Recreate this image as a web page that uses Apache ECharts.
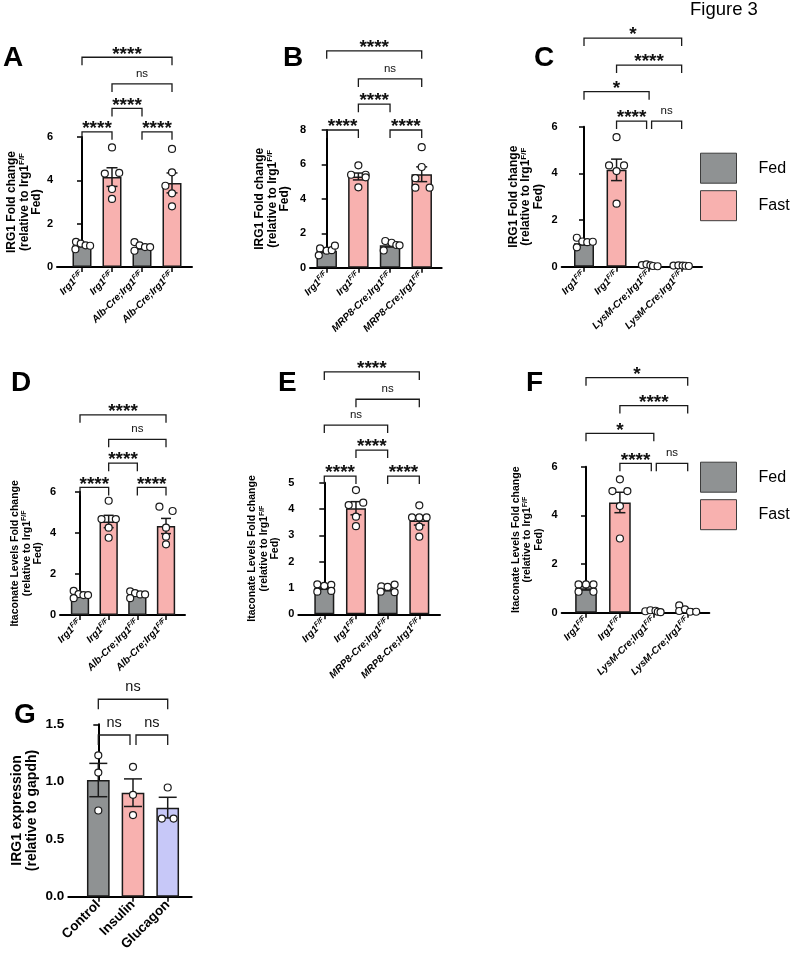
<!DOCTYPE html>
<html><head><meta charset="utf-8">
<script src="https://cdn.jsdelivr.net/npm/echarts@6/dist/echarts.min.js"></script>
<style>html,body{margin:0;padding:0;background:#fff}#c{width:793px;height:958px}</style>
</head><body><div id="c"></div>
<script>
// ---------------- DATA ----------------
const groupsAF = ['Fed', 'Fast', 'Fed', 'Fast'];
const labelsA = ['Irg1', 'Irg1', 'Alb-Cre;Irg1', 'Alb-Cre;Irg1'];
const labelsB = ['Irg1', 'Irg1', 'MRP8-Cre;Irg1', 'MRP8-Cre;Irg1'];
const labelsC = ['Irg1', 'Irg1', 'LysM-Cre;Irg1', 'LysM-Cre;Irg1'];
const labelsG = ['Control', 'Insulin', 'Glucagon'];
const groupsG = ['Control', 'Insulin', 'Glucagon'];

const yNameIRG1 = ['IRG1 Fold change', '(relative to Irg1^F/F', 'Fed)'];
const yNameIta = ['Itaconate Levels Fold change', '(relative to Irg1^F/F', 'Fed)'];
const yNameG = ['IRG1 expression', '(relative to gapdh)'];

const meanA = [1.0, 4.15, 0.9, 3.88];
const semA = [0.06, 0.43, 0.07, 0.46];
const ptsA = [[1.16, 1.08, 1.0, 0.98, 0.82], [5.52, 4.31, 4.34, 3.6, 3.14], [1.15, 1.0, 0.92, 0.92, 0.75], [5.45, 4.37, 3.75, 3.4, 2.8]];
const bracketsA = [[0, 1, 6.24], [2, 3, 6.24], [1, 2, 7.32], [1, 3, 8.45], [0, 3, 9.68]];
const sigA = ['****', '****', '****', 'ns', '****'];

const meanB = [0.98, 5.3, 1.3, 5.43];
const semB = [0.1, 0.2, 0.1, 0.43];
const ptsB = [[1.12, 0.99, 1.02, 1.28, 0.72], [5.95, 5.4, 5.4, 5.25, 4.67], [1.55, 1.45, 1.32, 1.3, 1.0], [7.0, 5.85, 5.2, 4.65, 4.65]];
const bracketsB = [[0, 1, 8.0], [2, 3, 8.0], [1, 2, 9.5], [1, 3, 10.97], [0, 3, 12.6]];
const sigB = ['****', '****', '****', 'ns', '****'];

const meanC = [1.0, 4.15, 0.05, 0.04];
const semC = [0.07, 0.46, 0.02, 0.01];
const ptsC = [[1.24, 1.08, 1.05, 1.07, 0.83], [5.55, 4.34, 4.34, 4.1, 2.7], [0.07, 0.1, 0.06, 0.03, 0.02], [0.05, 0.06, 0.05, 0.04, 0.03]];
const bracketsC = [[1, 2, 6.24], [2, 3, 6.24], [0, 2, 7.5], [1, 3, 8.64], [0, 3, 9.8]];
const sigC = ['****', 'ns', '*', '****', '*'];

const meanD = [0.97, 4.55, 1.0, 4.33];
const semD = [0.06, 0.3, 0.05, 0.37];
const ptsD = [[1.17, 1.02, 0.97, 0.97, 0.82], [5.56, 4.67, 4.67, 4.25, 3.76], [1.15, 1.06, 1.0, 1.0, 0.82], [5.27, 5.06, 4.25, 3.81, 3.44]];
const bracketsD = [[0, 1, 6.21], [2, 3, 6.21], [1, 2, 7.39], [1, 3, 8.55], [0, 3, 9.74]];
const sigD = ['****', '****', '****', 'ns', '****'];

const meanE = [1.01, 4.03, 0.95, 3.56];
const semE = [0.06, 0.25, 0.06, 0.17];
const ptsE = [[1.14, 1.08, 1.12, 0.86, 0.89], [4.72, 4.15, 4.24, 3.71, 3.35], [1.06, 1.04, 1.13, 0.86, 0.84], [4.14, 3.68, 3.68, 3.68, 3.33, 2.95]];
const bracketsE = [[0, 1, 5.25], [2, 3, 5.25], [1, 2, 6.24], [0, 2, 7.19], [1, 3, 8.17], [0, 3, 9.21]];
const sigE = ['****', '****', '****', 'ns', 'ns', '****'];

const meanF = [1.0, 4.53, 0.05, 0.11];
const semF = [0.07, 0.42, 0.02, 0.05];
const ptsF = [[1.16, 1.16, 1.16, 0.86, 0.86], [5.48, 5.0, 5.0, 4.38, 3.05], [0.06, 0.1, 0.08, 0.04, 0.02], [0.3, 0.07, 0.14, 0.04, 0.04]];
const bracketsF = [[1, 2, 6.14], [2, 3, 6.14], [0, 2, 7.37], [1, 3, 8.51], [0, 3, 9.66]];
const sigF = ['****', 'ns', '*', '****', '*'];

const meanG = [1.015, 0.905, 0.775];
const semG = [0.145, 0.12, 0.09];
const ptsG = [[1.23, 1.08, 0.75], [1.13, 0.886, 0.71], [0.95, 0.68, 0.68]];
const bracketsG = [[0, 1, 1.407], [1, 2, 1.407], [0, 2, 1.718]];
const sigG = ['ns', 'ns', 'ns'];

// horizontal spread of the dots (fraction of category step) - layout only
const jitA = [[-0.2, -0.04, 0.12, 0.27, -0.22], [0, -0.24, 0.24, 0, 0], [-0.25, -0.08, 0.1, 0.27, -0.25], [0, 0, -0.22, 0, 0]];
const jitB = [[-0.21, 0, 0.16, 0.26, -0.25], [0, -0.23, 0.23, 0.23, 0], [-0.15, 0.05, 0.2, 0.3, -0.2], [0, 0, -0.2, -0.2, 0.25]];
const jitC = [[-0.22, -0.05, 0.1, 0.27, -0.22], [0, -0.23, 0.23, 0, 0], [-0.22, -0.08, 0.04, 0.12, 0.26], [-0.25, -0.1, 0.03, 0.12, 0.22]];
const jitD = [[-0.22, -0.05, 0.12, 0.28, -0.22], [0, -0.25, 0.25, 0, 0], [-0.25, -0.08, 0.1, 0.27, -0.25], [-0.23, 0.23, 0, 0, 0]];
const jitE = [[-0.22, 0, 0.22, -0.22, 0.22], [0, -0.23, 0.23, 0, 0], [-0.2, 0, 0.22, -0.22, 0.22], [0, -0.23, 0, 0.23, 0, 0]];
const jitF = [[-0.22, 0, 0.22, -0.22, 0.22], [0, -0.22, 0.22, 0, 0], [-0.25, -0.1, 0.05, 0.12, 0.2], [-0.25, -0.25, -0.08, 0.07, 0.25]];
const jitG = [[0, 0, 0], [0, 0, 0], [0, -0.17, 0.17]];

// ---------------- STYLE / LAYOUT ----------------
const FONT = "'Liberation Sans', Arial, Helvetica, sans-serif";
const COLORS = { Fed: '#8f9293', Fast: '#f8b1af', Control: '#8f9293', Insulin: '#f8b1af', Glucagon: '#c7c8f8' };

const baseAF = { tickFont: 11, labFont: 10, supFont: 7, italic: true, sup: true, tip: 8, starSize: 19, nsSize: 11.5, starOff: 3, nsOff: 10, gap: 2.5, labMargin: 6, dot: 7 };
const panels = [
  Object.assign({}, baseAF, { letter: 'A', lx: 3, ly: 44, left: 57, top: 137, width: 135, height: 130, first: 25, step: 30, ymax: 6, yint: 2, barW: 19, cap: 11, nameGap: 10, nameFont: 12, nameLH: 12.5, yName: yNameIRG1, labels: labelsA, groups: groupsAF, mean: meanA, sem: semA, pts: ptsA, jit: jitA, br: bracketsA, sig: sigA }),
  Object.assign({}, baseAF, { letter: 'B', lx: 283, ly: 44, left: 310, top: 130, width: 131.7, height: 137.7, first: 16.7, step: 31.67, ymax: 8, yint: 2, barW: 20.5, cap: 11, nameGap: 19, nameFont: 12, nameLH: 12.5, yName: yNameIRG1, labels: labelsB, groups: groupsAF, mean: meanB, sem: semB, pts: ptsB, jit: jitB, br: bracketsB, sig: sigB }),
  Object.assign({}, baseAF, { letter: 'C', lx: 534, ly: 44, left: 561.7, top: 126.7, width: 140.3, height: 140, first: 22.3, step: 32.55, ymax: 6, yint: 2, barW: 20, cap: 11, nameGap: 17, nameFont: 12, nameLH: 12.5, yName: yNameIRG1, labels: labelsC, groups: groupsAF, mean: meanC, sem: semC, pts: ptsC, jit: jitC, br: bracketsC, sig: sigC }),
  Object.assign({}, baseAF, { letter: 'D', lx: 11, ly: 369, left: 60, top: 491.7, width: 125, height: 123.3, first: 20, step: 28.67, ymax: 6, yint: 2, barW: 18.3, cap: 10, nameGap: 16, nameFont: 10.5, nameLH: 11.5, yName: yNameIta, labels: labelsA, groups: groupsAF, mean: meanD, sem: semD, pts: ptsD, jit: jitD, br: bracketsD, sig: sigD }),
  Object.assign({}, baseAF, { letter: 'E', lx: 278, ly: 369, left: 298.3, top: 482.7, width: 141.7, height: 131.6, first: 26, step: 31.67, ymax: 5, yint: 1, barW: 20, cap: 11, nameGap: 17, nameFont: 10.5, nameLH: 11.5, yName: yNameIta, labels: labelsB, groups: groupsAF, mean: meanE, sem: semE, pts: ptsE, jit: jitE, br: bracketsE, sig: sigE }),
  Object.assign({}, baseAF, { letter: 'F', lx: 526, ly: 369, left: 561.7, top: 466.7, width: 147.6, height: 146, first: 24.3, step: 33.9, ymax: 6, yint: 2, barW: 21.7, cap: 11, nameGap: 17, nameFont: 10.5, nameLH: 11.5, yName: yNameIta, labels: labelsC, groups: groupsAF, mean: meanF, sem: semF, pts: ptsF, jit: jitF, br: bracketsF, sig: sigF }),
  { letter: 'G', lx: 14, ly: 701, left: 68.3, top: 724.3, width: 123.4, height: 172.4, first: 30, step: 34.7, ymax: 1.5, yint: 0.5, barW: 22.7, cap: 18, nameGap: 28, nameFont: 14, nameLH: 15.5, tickFont: 13.5, labFont: 13.5, italic: false, sup: false, tip: 10, starSize: 19, nsSize: 14.5, starOff: 3, nsOff: 12, gap: 3, labMargin: 6, dot: 7, decimals: 1, yName: yNameG, labels: labelsG, groups: groupsG, mean: meanG, sem: semG, pts: ptsG, jit: jitG, br: bracketsG, sig: sigG }
];

const option = {
  animation: false, backgroundColor: '#fff',
  title: [{ text: 'Figure 3', left: 690, top: 0, padding: 0, textStyle: { fontSize: 18.5, lineHeight: 19, fontWeight: 'normal', color: '#000', fontFamily: FONT } }],
  legend: [], grid: [], xAxis: [], yAxis: [], series: []
};

function yNameRich(lines) {
  return lines.map(l => {
    const parts = l.split('^');
    return '{b|' + parts[0] + '}' + (parts[1] ? '{s|' + parts[1] + '}' : '');
  }).join('\n');
}

panels.forEach((L, gi) => {
  option.title.push({ text: L.letter, left: L.lx, top: L.ly, padding: 0, textStyle: { fontSize: 28, lineHeight: 28, fontWeight: 'bold', color: '#000', fontFamily: FONT } });
  option.grid.push({ left: L.left, top: L.top, width: L.width, height: L.height });
  const ticks = L.labels.map((_, i) => i);
  option.xAxis.push({
    type: 'value', gridIndex: gi, min: -L.first / L.step, max: (L.width - L.first) / L.step,
    axisLine: { onZero: false, lineStyle: { color: '#000', width: 2 } },
    axisTick: { customValues: ticks, length: 5, lineStyle: { color: '#000', width: 1.5 } },
    splitLine: { show: false },
    axisLabel: {
      customValues: ticks, rotate: 45, margin: L.labMargin, color: '#000',
      formatter: v => L.sup ? '{i|' + L.labels[Math.round(v)] + '}{s|F/F}' : '{i|' + L.labels[Math.round(v)] + '}',
      rich: {
        i: { fontSize: L.labFont, fontWeight: 'bold', fontStyle: L.italic ? 'italic' : 'normal', fontFamily: FONT, color: '#000', lineHeight: L.labFont + 2 },
        s: { fontSize: L.supFont || 7, fontWeight: 'bold', fontStyle: 'italic', fontFamily: FONT, color: '#000', lineHeight: 5.5, verticalAlign: 'top' }
      }
    }
  });
  option.yAxis.push({
    type: 'value', gridIndex: gi, min: 0, max: L.ymax, interval: L.yint,
    axisLine: { show: true, lineStyle: { color: '#000', width: 2 } },
    axisTick: { show: true, length: 5, lineStyle: { color: '#000', width: 1.5 } },
    splitLine: { show: false },
    axisLabel: { fontSize: L.tickFont, fontWeight: 'bold', color: '#000', fontFamily: FONT, margin: 4,
      formatter: v => L.decimals ? v.toFixed(L.decimals) : String(v) },
    name: yNameRich(L.yName), nameLocation: 'middle', nameRotate: 90, nameGap: L.nameGap,
    nameTextStyle: { rich: {
      b: { fontSize: L.nameFont, fontWeight: 'bold', color: '#000', fontFamily: FONT, lineHeight: L.nameLH },
      s: { fontSize: Math.round(L.nameFont * 0.68), fontWeight: 'bold', color: '#000', fontFamily: FONT, lineHeight: 6, verticalAlign: 'top' }
    } }
  });

  // bars: one series per group, overlapped on their own x position
  const uniq = [...new Set(L.groups)];
  uniq.forEach(g => {
    option.series.push({
      type: 'bar', name: g, xAxisIndex: gi, yAxisIndex: gi, barWidth: L.barW, barGap: '-100%', z: 2,
      itemStyle: { color: COLORS[g], borderColor: '#1a1a1a', borderWidth: 1.5 },
      data: L.mean.map((m, i) => [i, m]).filter((d, i) => L.groups[i] === g)
    });
  });

  // error bars (mean ± SEM)
  option.series.push({
    type: 'custom', xAxisIndex: gi, yAxisIndex: gi, z: 3, silent: true,
    encode: { x: 0, y: 1 },
    data: L.mean.map((m, i) => [i, m, L.sem[i]]),
    renderItem: (p, api) => {
      const x = api.value(0), m = api.value(1), s = api.value(2);
      const t = api.coord([x, m + s]), b = api.coord([x, m - s]);
      const h = L.cap / 2;
      const st = { stroke: '#1a1a1a', lineWidth: 1.5 };
      return { type: 'group', children: [
        { type: 'line', shape: { x1: t[0], y1: t[1], x2: b[0], y2: b[1] }, style: st },
        { type: 'line', shape: { x1: t[0] - h, y1: t[1], x2: t[0] + h, y2: t[1] }, style: st },
        { type: 'line', shape: { x1: b[0] - h, y1: b[1], x2: b[0] + h, y2: b[1] }, style: st }
      ] };
    }
  });

  // individual points
  option.series.push({
    type: 'scatter', xAxisIndex: gi, yAxisIndex: gi, z: 4, symbol: 'circle', symbolSize: L.dot,
    itemStyle: { color: '#fff', borderColor: '#1a1a1a', borderWidth: 1.2, opacity: 1 },
    data: L.pts.flatMap((arr, i) => arr.map((v, k) => [i + L.jit[i][k], v]))
  });

  // significance brackets
  const br = L.br;
  const inset = br.map((b, j) => [
    br.some((c, k) => k !== j && c[2] === b[2] && c[1] === b[0]) ? L.gap : 0,
    br.some((c, k) => k !== j && c[2] === b[2] && c[0] === b[1]) ? L.gap : 0
  ]);
  option.series.push({
    type: 'custom', xAxisIndex: gi, yAxisIndex: gi, z: 5, silent: true, clip: false,
    encode: { x: [0, 1], y: 2 },
    data: br,
    renderItem: (p, api) => {
      const j = p.dataIndex;
      const p1 = api.coord([api.value(0), api.value(2)]);
      const p2 = api.coord([api.value(1), api.value(2)]);
      const x1 = p1[0] + inset[j][0], x2 = p2[0] - inset[j][1], y = p1[1];
      const star = L.sig[j] !== 'ns';
      return { type: 'group', children: [
        { type: 'polyline', shape: { points: [[x1, y + L.tip], [x1, y], [x2, y], [x2, y + L.tip]] }, style: { stroke: '#1a1a1a', lineWidth: 1.3, fill: 'none' } },
        { type: 'text', x: (x1 + x2) / 2, y: y - (star ? L.starOff : L.nsOff),
          style: { text: L.sig[j], fill: '#111', align: 'center', verticalAlign: 'middle',
            font: star ? 'bold ' + L.starSize + 'px ' + FONT : L.nsSize + 'px ' + FONT } }
      ] };
    }
  });
});

const legendBase = { data: ['Fed', 'Fast'], orient: 'vertical', left: 700, padding: 0, itemWidth: 36, itemHeight: 30, itemGap: 6.5, icon: 'rect', selectedMode: false,
  itemStyle: { borderColor: '#3c3c3c', borderWidth: 1 },
  textStyle: { fontSize: 16, color: '#000', fontFamily: FONT, padding: [0, 0, 0, 17] } };
option.legend.push(Object.assign({}, legendBase, { top: 152.7 }));
option.legend.push(Object.assign({}, legendBase, { top: 461.7 }));

const chart = echarts.init(document.getElementById('c'), null, { renderer: 'canvas' });
chart.setOption(option);
</script></body></html>
